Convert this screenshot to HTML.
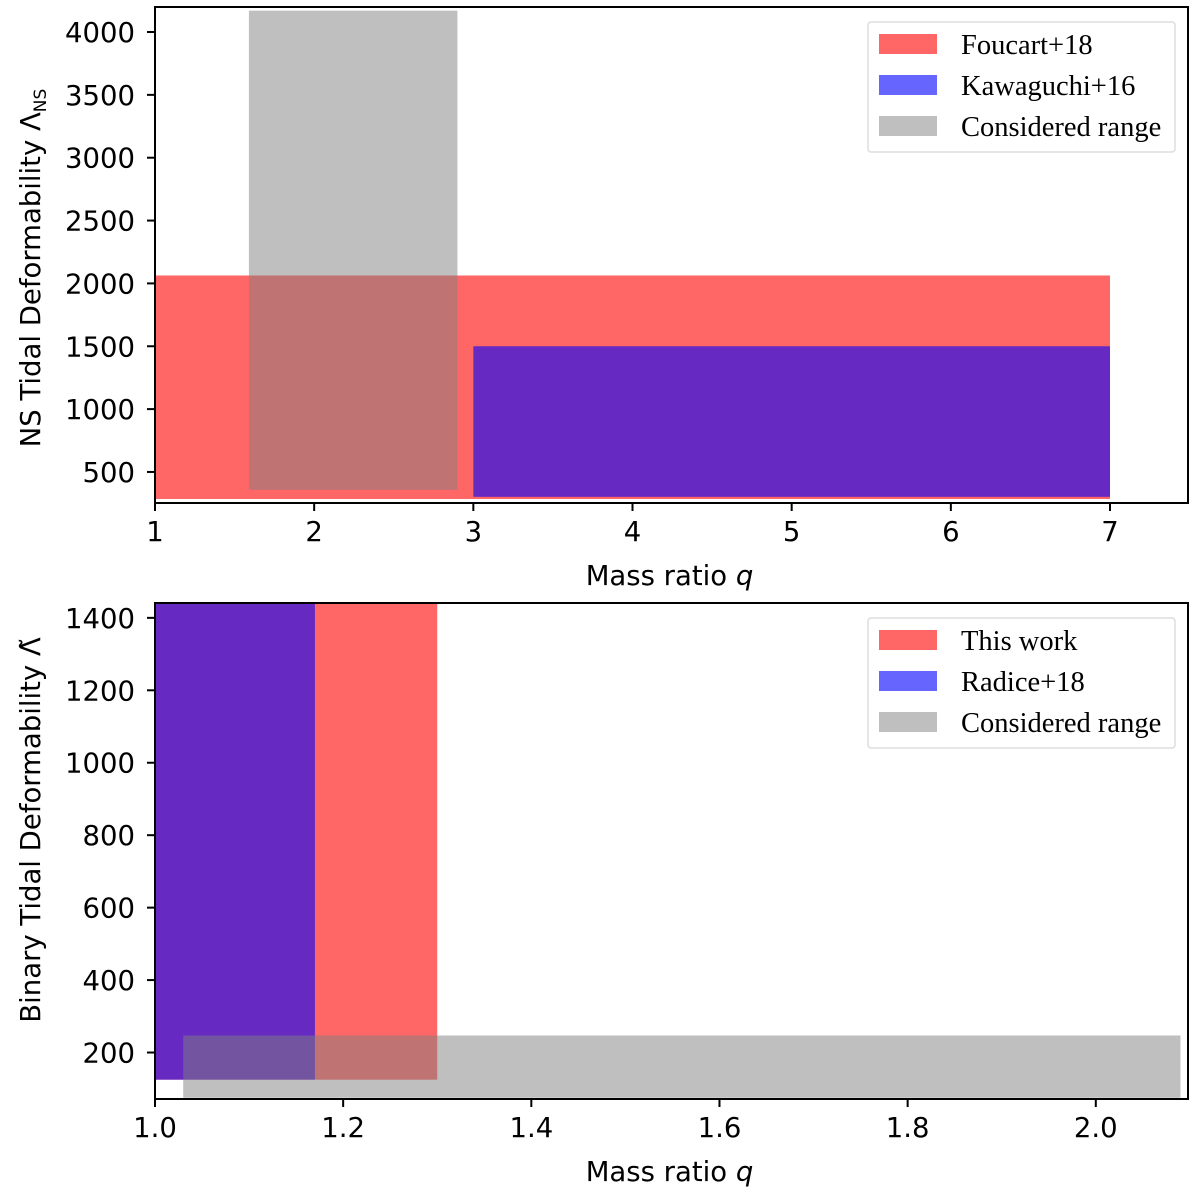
<!DOCTYPE html>
<html><head><meta charset="utf-8"><style>
body{margin:0;background:#fff}
svg{display:block}
text{font-family:"DejaVu Sans","Liberation Sans",sans-serif;font-size:27.5px;fill:#000}
.leg{font-family:"Liberation Serif",serif;font-size:28.5px}
</style></head><body>
<svg id="chart" width="1200" height="1199"></svg>
<script>
// Top panel data
const topXTicks = [1,2,3,4,5,6,7];
const topYTicks = [500,1000,1500,2000,2500,3000,3500,4000];
const topRectNames = ["Foucart+18","Kawaguchi+16","Considered range"];
const topX0 = [1.0, 3.0, 1.59];
const topX1 = [7.0, 7.0, 2.9];
const topY0 = [285, 302, 357];
const topY1 = [2063, 1500, 4170];
// Bottom panel data
const botXTicks = [1.0,1.2,1.4,1.6,1.8,2.0];
const botYTicks = [200,400,600,800,1000,1200,1400];
const botRectNames = ["This work","Radice+18","Considered range"];
const botX0 = [1.0, 1.0, 1.03];
const botX1 = [1.30, 1.17, 2.09];
const botY0 = [125, 125, 75];
const botY1 = [1445, 1445, 247];

const colors = ["rgba(255,0,0,0.6)","rgba(0,0,255,0.6)","rgba(128,128,128,0.5)"];
const NS="http://www.w3.org/2000/svg";
const svg=document.getElementById('chart');
function mk(tag,attrs,parent){const e=document.createElementNS(NS,tag);for(const k in attrs)e.setAttribute(k,attrs[k]);(parent||svg).appendChild(e);return e;}

function panel(p){
  const g=mk('g',{});
  
  
  const sx=v=>p.L+(v-p.xmin)/(p.xmax-p.xmin)*(p.R-p.L);
  const sy=v=>p.B-(v-p.ymin)/(p.ymax-p.ymin)*(p.B-p.T);
  const defs=mk('clipPath',{id:'clip'+p.name},g);
  mk('rect',{x:p.L,y:p.T,width:p.R-p.L,height:p.B-p.T},defs);
  const rg=mk('g',{'clip-path':'url(#clip'+p.name+')'},g);
  for(let i=0;i<p.x0.length;i++){
    const r=mk('rect',{x:sx(p.x0[i]),y:sy(p.y1[i]),width:sx(p.x1[i])-sx(p.x0[i]),height:sy(p.y0[i])-sy(p.y1[i]),fill:colors[i]},rg);
    
    
  }
  const fr=mk('rect',{x:p.L,y:p.T,width:p.R-p.L,height:p.B-p.T,fill:'none',stroke:'#000','stroke-width':2},g);
  
  
  p.xt.forEach(v=>{
    const x=sx(v);
    mk('line',{x1:x,x2:x,y1:p.B,y2:p.B+8,stroke:'#000','stroke-width':2},g);
    const t=mk('text',{x:x,y:p.B+38,'text-anchor':'middle'},g);
    t.textContent=p.xfmt(v);
    
    
  });
  p.yt.forEach(v=>{
    const y=sy(v);
    mk('line',{x1:p.L-8,x2:p.L,y1:y,y2:y,stroke:'#000','stroke-width':2},g);
    const t=mk('text',{x:p.L-20,y:y+10,'text-anchor':'end'},g);
    t.textContent=v;
    
    
  });
  const xl=mk('text',{x:(p.L+p.R)/2 - 2,y:p.B+82,'text-anchor':'middle'},g);
  xl.innerHTML='Mass ratio <tspan font-style="italic">q</tspan>';
  
  
  const yl=mk('text',{x:0,y:0,'text-anchor':'middle',transform:`translate(40,${p.ylY}) rotate(-90)`},g);
  yl.innerHTML=p.ylabel;
  
  
  const lg=mk('g',{},g);
  
  
  mk('rect',{x:868,y:p.legY,width:307,height:130,rx:3,fill:'#fff',stroke:'#ddd','stroke-width':1.5},lg);
  p.names.forEach((n,i)=>{
    const y=p.legY+12+i*41;
    mk('rect',{x:879,y:y,width:58,height:20,fill:colors[i]},lg);
    const t=mk('text',{x:961,y:y+20,class:'leg'},lg);
    t.textContent=n;
    
    
  });
}
panel({name:'top-panel',L:155,R:1188,T:7,B:503,xmin:1,xmax:7.49,ymin:253,ymax:4199,
  x0:topX0,x1:topX1,y0:topY0,y1:topY1,names:topRectNames,xt:topXTicks,yt:topYTicks,
  xfmt:v=>String(v),ylabel:'NS Tidal Deformability Λ<tspan font-size="17" dy="6">NS</tspan>',ylY:268,legY:22});
panel({name:'bottom-panel',L:155,R:1188,T:603,B:1099,xmin:1.0,xmax:2.098,ymin:71.7,ymax:1441,
  x0:botX0,x1:botX1,y0:botY0,y1:botY1,names:botRectNames,xt:botXTicks,yt:botYTicks,
  xfmt:v=>v.toFixed(1),ylabel:'Binary Tidal Deformability Λ̃',ylY:830,legY:618});
</script>
</body></html>
